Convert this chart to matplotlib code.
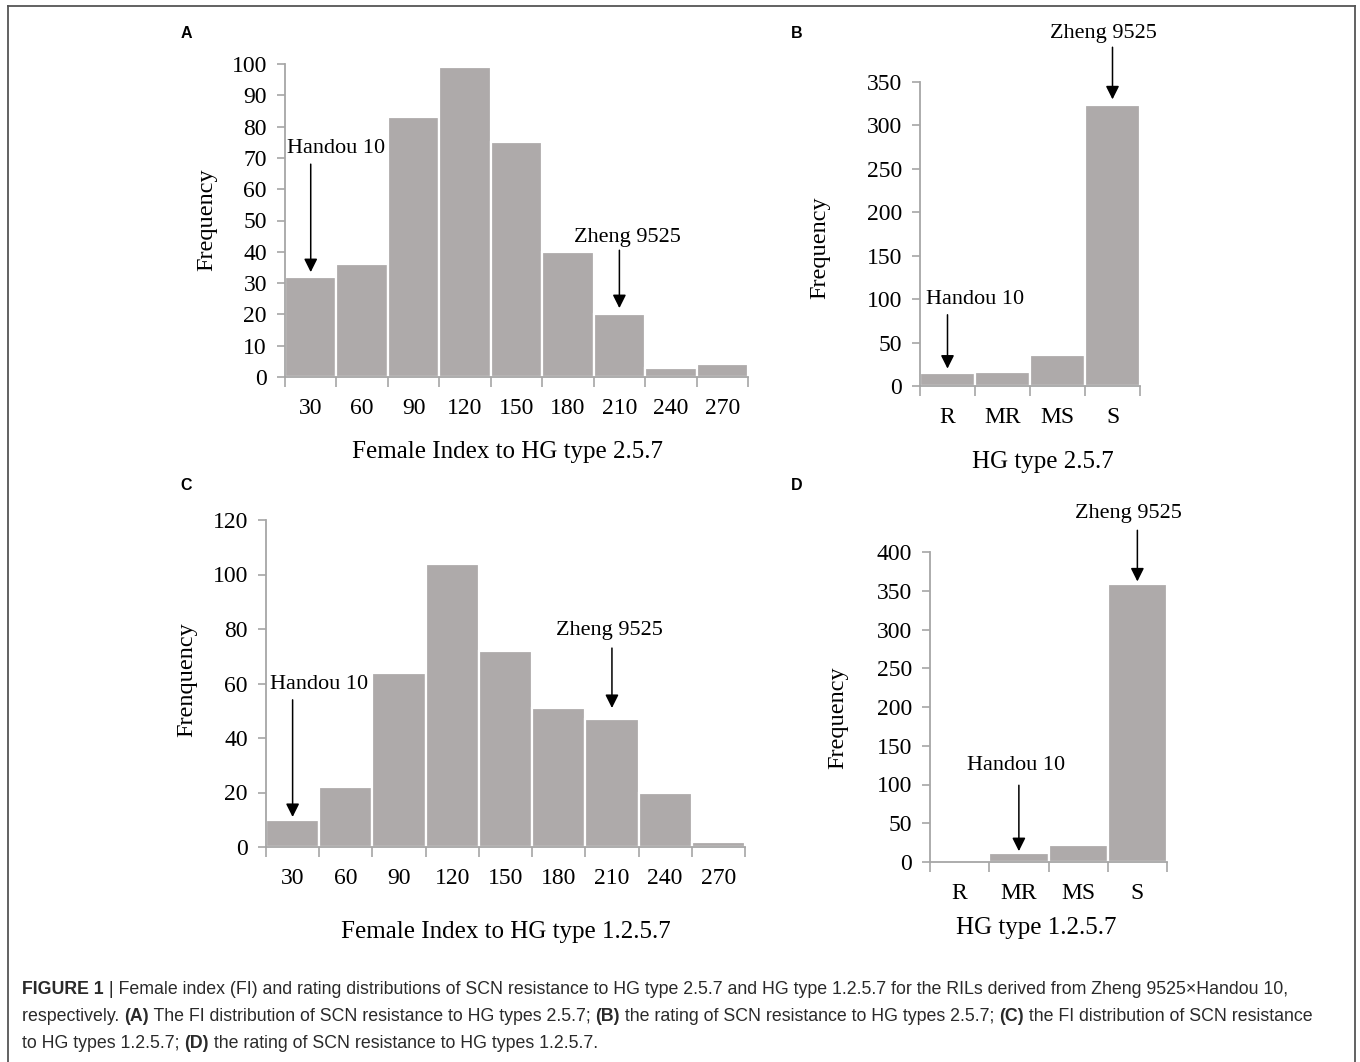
import matplotlib
matplotlib.use('Agg')
import matplotlib.pyplot as plt
from matplotlib import font_manager
from matplotlib.lines import Line2D

# data
fi_bins = ['30', '60', '90', '120', '150', '180', '210', '240', '270']
fi_257 = [32, 36, 83, 99, 75, 40, 20, 3, 4]
fi_1257 = [10, 22, 64, 104, 72, 51, 47, 20, 2]
ratings = ['R', 'MR', 'MS', 'S']
rating_257 = [15, 16, 36, 324]
rating_1257 = [0, 11, 22, 359]

W, H = 1360, 1062
BAR = '#aeaaaa'
AXC = '#a6a6a6'
plt.rcParams['font.family'] = ['Liberation Serif', 'DejaVu Serif']

names = {f.name for f in font_manager.fontManager.ttflist}
cap_font = 'Liberation Sans Narrow' if 'Liberation Sans Narrow' in names else 'Liberation Sans'
cap_size = 12 if cap_font == 'Liberation Sans Narrow' else 12.8

fig = plt.figure(figsize=(W / 100, H / 100), dpi=100)


def px_axes(l, r, top, bot):
    return fig.add_axes([l / W, 1 - bot / H, (r - l) / W, (bot - top) / H])


def style(ax, labels, vals, ymax, ystep, xlab, ylab, box, xl_pos, yl_pos):
    n = len(labels)
    x = list(range(n))
    ax.bar(x, vals, width=1.0, color=BAR, edgecolor='white', linewidth=1.6)
    ax.set_xlim(-0.5, n - 0.5)
    ax.set_ylim(0, ymax)
    for s in ['top', 'right']:
        ax.spines[s].set_visible(False)
    for s in ['left', 'bottom']:
        ax.spines[s].set_color(AXC)
        ax.spines[s].set_linewidth(1.3)
    ax.set_yticks(range(0, ymax + 1, ystep))
    ax.tick_params(axis='y', colors=AXC, labelcolor='black', labelsize=17,
                   length=6, width=1.2, pad=7)
    ax.set_xticks(x)
    ax.set_xticklabels(labels)
    ax.set_xticks([i - 0.5 for i in range(n + 1)], minor=True)
    ax.tick_params(axis='x', which='major', length=0, labelsize=17, pad=15)
    ax.tick_params(axis='x', which='minor', colors=AXC, length=7, width=1.2)
    l, r, top, bot = box
    ax.set_xlabel(xlab, fontsize=18)
    ax.xaxis.set_label_coords((xl_pos[0] - l) / (r - l), (bot - xl_pos[1]) / (bot - top))
    ax.set_ylabel(ylab, fontsize=17.5)
    ax.yaxis.set_label_coords((yl_pos[0] - l) / (r - l), (bot - yl_pos[1]) / (bot - top))
    ax.xaxis.label.set_va('center')
    ax.yaxis.label.set_va('center')


def mark(ax, text, x, dx, ytext, ystart, yend):
    ax.annotate('', xy=(x, yend), xytext=(x, ystart),
                arrowprops=dict(arrowstyle='-|>', color='black', lw=1.1,
                                mutation_scale=20, shrinkA=0, shrinkB=0),
                annotation_clip=False)
    ax.text(x + dx, ytext, text, ha='center', va='center', fontsize=16, clip_on=False)


# A
boxA = (285, 748, 64, 377)
axA = px_axes(*boxA)
style(axA, fi_bins, fi_257, 100, 10, 'Female Index to HG type 2.5.7', 'Frequency',
      boxA, (507, 452), (207, 220))
mark(axA, 'Handou 10', 0, 0.5, 73, 68, 33.5)
mark(axA, 'Zheng 9525', 6, 0.15, 44.5, 40.5, 22)

# B
boxB = (920, 1140, 82, 386)
axB = px_axes(*boxB)
style(axB, ratings, rating_257, 350, 50, 'HG type 2.5.7', 'Frequency',
      boxB, (1043, 462), (820, 248))
mark(axB, 'Handou 10', 0, 0.5, 100, 82, 20)
mark(axB, 'Zheng 9525', 3, -0.17, 406, 390, 330)

# C
boxC = (266, 745, 520, 847)
axC = px_axes(*boxC)
style(axC, fi_bins, fi_1257, 120, 20, 'Female Index to HG type 1.2.5.7', 'Frenquency',
      boxC, (506, 932), (187, 680))
mark(axC, 'Handou 10', 0, 0.5, 59.5, 54, 11)
mark(axC, 'Zheng 9525', 6, -0.05, 79.5, 73, 51)

# D
boxD = (930, 1167, 552, 862)
axD = px_axes(*boxD)
style(axD, ratings, rating_1257, 400, 50, 'HG type 1.2.5.7', 'Frequency',
      boxD, (1036, 928), (838, 718))
mark(axD, 'Handou 10', 1, -0.05, 124, 99, 14)
mark(axD, 'Zheng 9525', 3, -0.15, 450, 428, 362)

# panel letters
for letter, (lx, ly) in zip('ABCD', [(186, 33), (797, 33), (186, 486), (797, 486)]):
    fig.text(lx / W, 1 - ly / H, letter, fontsize=11.5, fontweight='bold',
             family=['Liberation Sans', 'DejaVu Sans'], ha='center', va='center')

# frame round the figure
frame = dict(color='#555555', lw=1.3, transform=fig.transFigure)
fig.add_artist(Line2D([8 / W, 1355 / W], [1 - 6 / H, 1 - 6 / H], **frame))
fig.add_artist(Line2D([8 / W, 8 / W], [0, 1 - 6 / H], **frame))
fig.add_artist(Line2D([1355 / W, 1355 / W], [0, 1 - 6 / H], **frame))

# caption
caption = [
    [('FIGURE 1', True), (' | Female index (FI) and rating distributions of SCN resistance to HG type 2.5.7 '
                          'and HG type 1.2.5.7 for the RILs derived from Zheng 9525\u00d7Handou 10,', False)],
    [('respectively. ', False), ('(A)', True), (' The FI distribution of SCN resistance to HG types 2.5.7; ', False),
     ('(B)', True), (' the rating of SCN resistance to HG types 2.5.7; ', False),
     ('(C)', True), (' the FI distribution of SCN resistance', False)],
    [('to HG types 1.2.5.7; ', False), ('(D)', True), (' the rating of SCN resistance to HG types 1.2.5.7.', False)],
]
renderer = fig.canvas.get_renderer()
for i, line in enumerate(caption):
    xpos = 22
    ypos = 990 + i * 26.5
    for txt, bold in line:
        t = fig.text(xpos / W, 1 - ypos / H, txt, fontsize=cap_size, color='#2a2a2a',
                     fontweight='bold' if bold else 'normal',
                     family=[cap_font, 'DejaVu Sans'], ha='left', va='center')
        xpos += t.get_window_extent(renderer).width

fig.savefig('out.png', dpi=100)
